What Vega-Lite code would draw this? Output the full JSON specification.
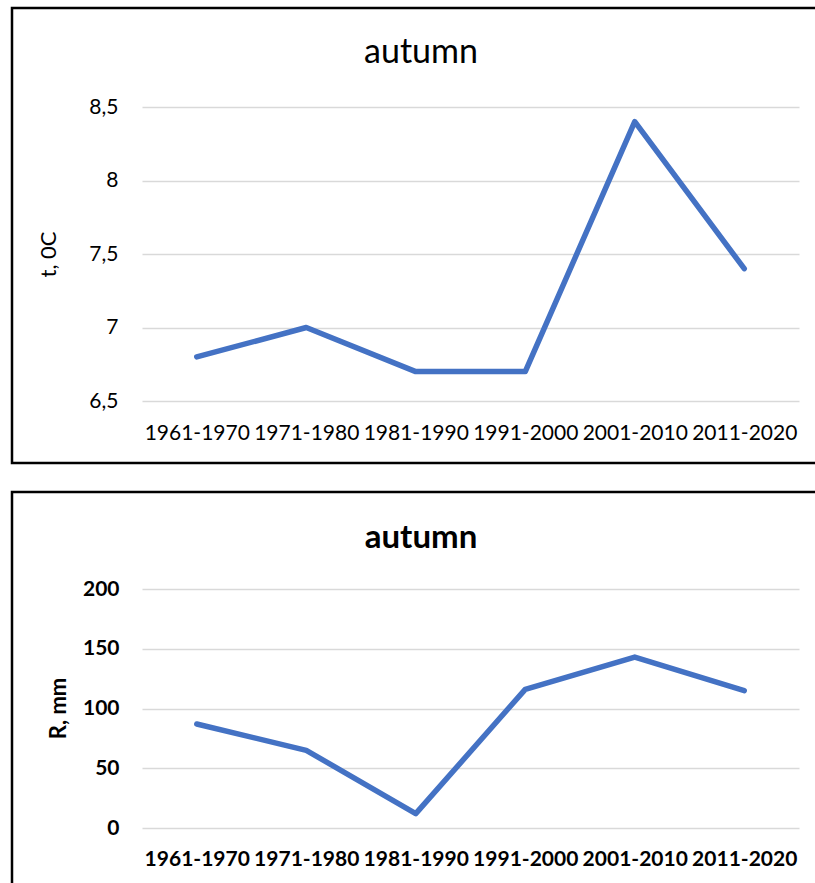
{
  "$schema": "https://vega.github.io/schema/vega-lite/v6.json",
  "padding": {"left": 10, "top": 6, "right": 0, "bottom": 0},
  "background": "white",
  "spacing": 25,
  "datasets": {
    "temp": [
      {"period": "1961-1970", "t": 6.8},
      {"period": "1971-1980", "t": 7.0},
      {"period": "1981-1990", "t": 6.7},
      {"period": "1991-2000", "t": 6.7},
      {"period": "2001-2010", "t": 8.4},
      {"period": "2011-2020", "t": 7.4}
    ],
    "rain": [
      {"period": "1961-1970", "R": 87},
      {"period": "1971-1980", "R": 65},
      {"period": "1981-1990", "R": 12},
      {"period": "1991-2000", "R": 116},
      {"period": "2001-2010", "R": 143},
      {"period": "2011-2020", "R": 115}
    ]
  },
  "config": {
    "view": {"stroke": "black", "strokeWidth": 2.5},
    "font": "Lato",
    "axis": {
      "labelFont": "Lato",
      "titleFont": "Lato",
      "labelColor": "black",
      "titleColor": "black",
      "domain": false,
      "ticks": false,
      "gridColor": "#d9d9d9",
      "gridWidth": 1.5
    },
    "title": {"font": "Lato", "color": "black"}
  },
  "vconcat": [
    {
      "width": 818,
      "height": 455,
      "title": {"text": "autumn", "fontSize": 34, "fontWeight": "normal", "frame": "group", "anchor": "middle", "baseline": "bottom", "offset": -96},
      "data": {"name": "temp"},
      "mark": {"type": "line", "color": "#4472C4", "strokeWidth": 5.5, "strokeCap": "round", "strokeJoin": "round"},
      "encoding": {
        "x": {
          "field": "period", "type": "ordinal", "sort": null,
          "scale": {"type": "point", "range": [130, 787], "padding": 0.5},
          "axis": {"title": null, "labelAngle": 0, "labelFontSize": 21, "labelPadding": 32, "labelBaseline": "middle", "offset": -62, "grid": false}
        },
        "y": {
          "field": "t", "type": "quantitative",
          "scale": {"domain": [6.5, 8.5], "range": [393, 99], "nice": false, "zero": false},
          "axis": {
            "title": "t, 0C", "values": [6.5, 7, 7.5, 8, 8.5],
            "labelExpr": "replace(toString(datum.value), '.', ',')",
            "labelFontSize": 21, "labelPadding": 24, "offset": -130,
            "titleFontSize": 22, "titleFontWeight": "normal", "titleX": -94, "titleY": 246, "titleBaseline": "middle"
          }
        }
      }
    },
    {
      "width": 818,
      "height": 400,
      "title": {"text": "autumn", "fontSize": 33, "fontWeight": "bold", "frame": "group", "anchor": "middle", "baseline": "bottom", "offset": -96},
      "data": {"name": "rain"},
      "mark": {"type": "line", "color": "#4472C4", "strokeWidth": 5.5, "strokeCap": "round", "strokeJoin": "round"},
      "encoding": {
        "x": {
          "field": "period", "type": "ordinal", "sort": null,
          "scale": {"type": "point", "range": [130, 787], "padding": 0.5},
          "axis": {"title": null, "labelAngle": 0, "labelFontSize": 21, "labelFontWeight": "bold", "labelPadding": 31, "labelBaseline": "middle", "offset": -64, "grid": false}
        },
        "y": {
          "field": "R", "type": "quantitative",
          "scale": {"domain": [0, 200], "range": [336, 97], "nice": false},
          "axis": {
            "title": "R, mm", "values": [0, 50, 100, 150, 200],
            "labelFontSize": 21, "labelFontWeight": "bold", "labelPadding": 23, "offset": -130,
            "titleFontSize": 22, "titleFontWeight": "bold", "titleX": -84, "titleY": 216, "titleBaseline": "middle"
          }
        }
      }
    }
  ]
}
